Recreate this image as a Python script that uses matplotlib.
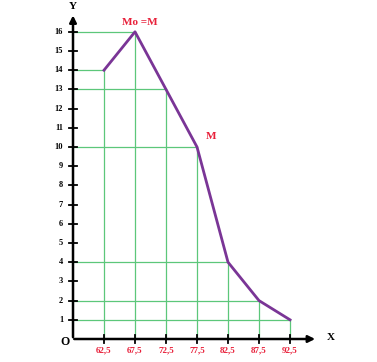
import matplotlib.pyplot as plt

# data
classes = ["62,5", "67,5", "72,5", "77,5", "82,5", "87,5", "92,5"]
freq = [14, 16, 13, 10, 4, 2, 1]
y_ticks = list(range(1, 17))

pos = list(range(1, len(classes) + 1))

fig = plt.figure(figsize=(3.77, 3.62), dpi=100)
ax = fig.add_axes([0, 0, 1, 1])
ax.set_xlim(-2.355, 9.806)
ax.set_ylim(-1.198, 17.656)
ax.axis("off")

green = "#5cc77a"
purple = "#7a3596"
red = "#e8203a"
serif = ["Liberation Serif", "DejaVu Serif"]

# guide lines from the axes to each point
for x, y in zip(pos, freq):
    ax.plot([0, x], [y, y], color=green, lw=0.9, zorder=1)
    ax.plot([x, x], [0, y], color=green, lw=0.9, zorder=1)

# polygon
ax.plot(pos, freq, color=purple, lw=2.0, zorder=3)

# axes with arrows
ax.annotate("", xy=(7.9, 0), xytext=(-0.05, 0),
            arrowprops=dict(arrowstyle="-|>", color="black", lw=1.8,
                            mutation_scale=10), zorder=4)
ax.annotate("", xy=(0, 17.0), xytext=(0, -0.05),
            arrowprops=dict(arrowstyle="-|>", color="black", lw=1.8,
                            mutation_scale=10), zorder=4)

# y ticks
for t in y_ticks:
    ax.plot([-0.12, 0.12], [t, t], color="black", lw=1.3, zorder=4)
    ax.text(-0.32, t, str(t), ha="right", va="center", fontsize=6,
            fontweight="bold", family=serif)

# x ticks
for x, lab in zip(pos, classes):
    ax.plot([x, x], [-0.2, 0.2], color="black", lw=1.3, zorder=4)
    ax.text(x, -0.6, lab, ha="center", va="center", fontsize=6.5,
            fontweight="bold", color=red, family=serif)

ax.text(-0.1, -0.15, "O", ha="right", va="center", fontsize=8.5,
        fontweight="bold", family=serif)
ax.text(8.32, 0.1, "X", ha="center", va="center", fontsize=8,
        fontweight="bold", family=serif)
ax.text(0, 17.33, "Y", ha="center", va="center", fontsize=8,
        fontweight="bold", family=serif)

ax.text(2.16, 16.46, "Mo =M", ha="center", va="center", fontsize=8,
        fontweight="bold", color=red, family=serif)
ax.text(4.45, 10.57, "M", ha="center", va="center", fontsize=8,
        fontweight="bold", color=red, family=serif)

fig.savefig("out.png", dpi=100)
